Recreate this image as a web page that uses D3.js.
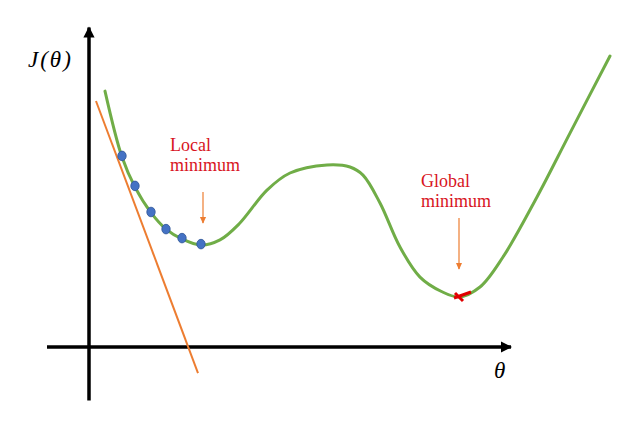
<!DOCTYPE html>
<html>
<head>
<meta charset="utf-8">
<style>
  body { margin: 0; background: #fff; }
</style>
</head>
<body>
<script src="https://d3js.org/d3.v7.min.js"></script>
<script>
    // cost curve J(theta)
    const curveTheta = [3.2, 6.6, 9.2, 12.4, 15.4, 18.6, 22.4, 26.2, 30, 35.6, 40.2, 47.6, 52.2, 54.8, 58.2, 62.2, 66.2, 70.5, 74, 78.2, 82.8, 89.6, 96.2, 104.2];
    const curveJ = [85.3, 63.3, 53.3, 44.8, 39.3, 36, 34, 35.7, 41, 52.3, 58, 60.7, 60, 57.3, 48, 33.3, 23.3, 18.5, 16.7, 20, 30, 50, 71.3, 97];

    // gradient descent steps
    const stepTheta = [6.6, 9.2, 12.4, 15.4, 18.6, 22.4];
    const stepJ = [63.7, 53.7, 45, 39.3, 36.3, 34.3];

    // tangent line end points
    const tangentTheta = [1.4, 21.8];
    const tangentJ = [82, -8.7];

    const globalMin = [74, 17];
    const localMin = [22.8, 33.7];

    const width = 629;
    const height = 424;
    const serif = "'Liberation Serif', 'Times New Roman', 'DejaVu Serif', serif";

    const xScale = d3.scaleLinear().domain([0, 100]).range([89, 589]);
    const yScale = d3.scaleLinear().domain([0, 100]).range([347, 47]);

    const svg = d3.select("body")
        .append("svg")
        .attr("width", width)
        .attr("height", height);

    const defs = svg.append("defs");
    defs.append("marker")
        .attr("id", "blackArrow")
        .attr("viewBox", "0 0 10 10")
        .attr("refX", 9).attr("refY", 5)
        .attr("markerWidth", 3.2).attr("markerHeight", 3.2)
        .attr("markerUnits", "strokeWidth")
        .attr("orient", "auto")
        .append("path")
        .attr("d", "M0,0 L10,5 L0,10 z")
        .attr("fill", "#000");
    defs.append("marker")
        .attr("id", "orangeArrow")
        .attr("viewBox", "0 0 10 10")
        .attr("refX", 9).attr("refY", 5)
        .attr("markerWidth", 6).attr("markerHeight", 6)
        .attr("markerUnits", "strokeWidth")
        .attr("orient", "auto")
        .append("path")
        .attr("d", "M0,0.5 L10,5 L0,9.5 z")
        .attr("fill", "#ed7d31");

    // axes
    svg.append("line")
        .attr("x1", xScale(-8.4)).attr("y1", yScale(0))
        .attr("x2", xScale(84.4)).attr("y2", yScale(0))
        .attr("stroke", "#000").attr("stroke-width", 3.5)
        .attr("marker-end", "url(#blackArrow)");
    svg.append("line")
        .attr("x1", xScale(0)).attr("y1", yScale(-17.8))
        .attr("x2", xScale(0)).attr("y2", yScale(106.5))
        .attr("stroke", "#000").attr("stroke-width", 3.5)
        .attr("marker-end", "url(#blackArrow)");

    svg.append("text")
        .attr("x", 28).attr("y", 67)
        .attr("font-family", serif)
        .attr("font-style", "italic")
        .attr("font-size", 23)
        .attr("letter-spacing", 2)
        .text("J(θ)");
    svg.append("text")
        .attr("x", 494).attr("y", 378)
        .attr("font-family", serif)
        .attr("font-style", "italic")
        .attr("font-size", 23)
        .text("θ");

    // tangent
    svg.append("line")
        .attr("x1", xScale(tangentTheta[0])).attr("y1", yScale(tangentJ[0]))
        .attr("x2", xScale(tangentTheta[1])).attr("y2", yScale(tangentJ[1]))
        .attr("stroke", "#ed7d31").attr("stroke-width", 2);

    // cost curve
    const curvePoints = curveTheta.map((t, i) => [t, curveJ[i]]);
    const line = d3.line()
        .x(d => xScale(d[0]))
        .y(d => yScale(d[1]))
        .curve(d3.curveCatmullRom.alpha(0.5));
    svg.append("path")
        .datum(curvePoints)
        .attr("d", line)
        .attr("fill", "none")
        .attr("stroke", "#70ad47")
        .attr("stroke-width", 3)
        .attr("stroke-linecap", "round");

    // steps
    svg.selectAll("ellipse.step")
        .data(stepTheta.map((t, i) => [t, stepJ[i]]))
        .enter()
        .append("ellipse")
        .attr("class", "step")
        .attr("cx", d => xScale(d[0]))
        .attr("cy", d => yScale(d[1]))
        .attr("rx", 4.2)
        .attr("ry", 4.8)
        .attr("fill", "#4472c4")
        .attr("stroke", "#2f5597")
        .attr("stroke-width", 0.8);

    // global minimum cross
    const gx = xScale(globalMin[0]);
    const gy = yScale(globalMin[1]);
    svg.append("path")
        .attr("d", `M${gx - 5},${gy + 2} L${gx + 12},${gy - 4} M${gx - 4},${gy - 3} L${gx + 4},${gy + 5}`)
        .attr("stroke", "#e00000")
        .attr("stroke-width", 3)
        .attr("fill", "none");

    // annotations
    const labelColor = "#d8141e";
    const annotations = [
        { lines: ["Local", "minimum"], x: 16.2, y: 65.3, arrowX: localMin[0], arrowFrom: 51.7, arrowTo: 41.3 },
        { lines: ["Global", "minimum"], x: 66.4, y: 53.3, arrowX: globalMin[0], arrowFrom: 43, arrowTo: 26 }
    ];
    annotations.forEach(a => {
        const t = svg.append("text")
            .attr("font-family", serif)
            .attr("font-size", 18)
            .attr("fill", labelColor);
        a.lines.forEach((s, i) => {
            t.append("tspan")
                .attr("x", xScale(a.x))
                .attr("y", yScale(a.y) + i * 20)
                .text(s);
        });
        svg.append("line")
            .attr("x1", xScale(a.arrowX)).attr("y1", yScale(a.arrowFrom))
            .attr("x2", xScale(a.arrowX)).attr("y2", yScale(a.arrowTo))
            .attr("stroke", "#ed7d31").attr("stroke-width", 1.2)
            .attr("marker-end", "url(#orangeArrow)");
    });
</script>
</body>
</html>
